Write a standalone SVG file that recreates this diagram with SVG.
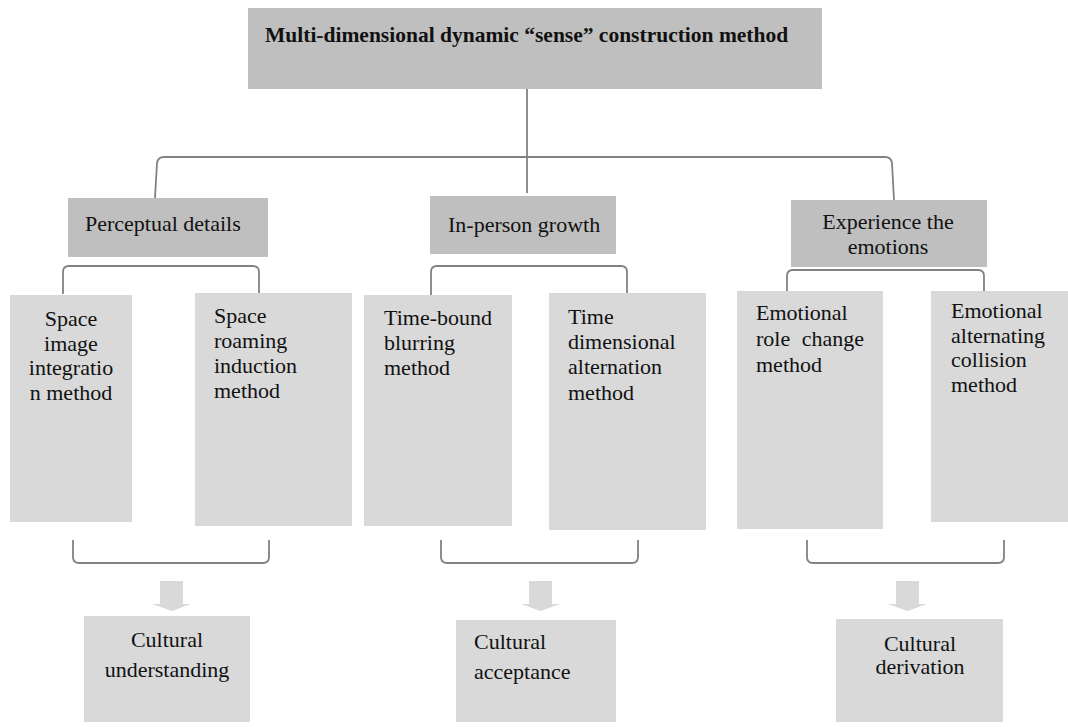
<svg xmlns="http://www.w3.org/2000/svg" width="1068" height="727" viewBox="0 0 1068 727">
<style>
.dark{fill:#bfbfbf}
.light{fill:#d9d9d9}
.t{font-family:"Liberation Serif","Times New Roman",serif;font-size:22px;fill:#111}
.b{font-weight:bold;font-size:21.5px}
.c{text-anchor:middle}
.ln{fill:none;stroke:#828282;stroke-width:1.8}
.arr{fill:#d9d9d9}
</style>
<rect width="1068" height="727" fill="#fff"/>
<g id="connectors">
<path class="ln" d="M527,88 V193"/>
<path class="ln" d="M155,198 L157,163 Q158,157 164,157 H885 Q891,157 892,163 L894,200"/>
<path class="ln" d="M63,294 V272 Q63,266 69,266 H253 Q259,266 259,272 V293"/>
<path class="ln" d="M431,295 V272 Q431,266 437,266 H621 Q627,266 627,272 V293"/>
<path class="ln" d="M787,291 V276 Q787,270 793,270 H978 Q984,270 984,276 V291"/>
<path class="ln" d="M73,540 V557 Q73,563 79,563 H263 Q269,563 269,557 V540"/>
<path class="ln" d="M441,540 V557 Q441,563 447,563 H632 Q638,563 638,557 V540"/>
<path class="ln" d="M807,540 V557 Q807,563 813,563 H998 Q1004,563 1004,557 V540"/>
<polygon class="arr" points="160,581 183,581 183,604 191,604 172,611 152,604 160,604"/>
<polygon class="arr" points="529,581 552,581 552,604 560,604 540.5,611 521,604 529,604"/>
<polygon class="arr" points="896,581 919,581 919,604 927,604 907.5,611 888,604 896,604"/>
</g>
<g id="root">
<rect class="dark" x="248" y="8" width="574" height="81"/>
<text class="t b" x="265" y="42">Multi-dimensional dynamic “sense” construction method</text>
</g>
<g id="perceptual">
<rect class="dark" x="68" y="198" width="200" height="59"/>
<text class="t" x="85" y="231">Perceptual details</text>
</g>
<g id="inperson">
<rect class="dark" x="430" y="196" width="186" height="58"/>
<text class="t" x="448" y="232">In-person growth</text>
</g>
<g id="experience">
<rect class="dark" x="791" y="200" width="196" height="67"/>
<text class="t c" x="888" y="229">Experience the</text>
<text class="t c" x="888" y="254">emotions</text>
</g>
<g id="space-image">
<rect class="light" x="10" y="295" width="122" height="227"/>
<text class="t c" x="71" y="326">Space</text>
<text class="t c" x="71" y="350.5">image</text>
<text class="t c" x="71" y="375">integratio</text>
<text class="t c" x="71" y="400">n method</text>
</g>
<g id="space-roaming">
<rect class="light" x="195" y="293" width="157" height="233"/>
<text class="t" x="214" y="323">Space</text>
<text class="t" x="214" y="348">roaming</text>
<text class="t" x="214" y="373">induction</text>
<text class="t" x="214" y="398">method</text>
</g>
<g id="time-bound">
<rect class="light" x="364" y="295" width="148" height="231"/>
<text class="t" x="384" y="324.5">Time-bound</text>
<text class="t" x="384" y="349.5">blurring</text>
<text class="t" x="384" y="375">method</text>
</g>
<g id="time-dimensional">
<rect class="light" x="549" y="293" width="157" height="237"/>
<text class="t" x="568" y="324">Time</text>
<text class="t" x="568" y="349">dimensional</text>
<text class="t" x="568" y="374">alternation</text>
<text class="t" x="568" y="400">method</text>
</g>
<g id="emotional-role">
<rect class="light" x="737" y="291" width="146" height="238"/>
<text class="t" x="756" y="320">Emotional</text>
<text class="t" x="756" y="346" word-spacing="6">role change</text>
<text class="t" x="756" y="372">method</text>
</g>
<g id="emotional-collision">
<rect class="light" x="931" y="291" width="137" height="231"/>
<text class="t" x="951" y="318">Emotional</text>
<text class="t" x="951" y="343">alternating</text>
<text class="t" x="951" y="367">collision</text>
<text class="t" x="951" y="392">method</text>
</g>
<g id="understanding">
<rect class="light" x="84" y="616" width="166" height="106"/>
<text class="t c" x="167" y="647">Cultural</text>
<text class="t c" x="167" y="677">understanding</text>
</g>
<g id="acceptance">
<rect class="light" x="456" y="620" width="160" height="102"/>
<text class="t" x="474" y="649">Cultural</text>
<text class="t" x="474" y="679">acceptance</text>
</g>
<g id="derivation">
<rect class="light" x="836" y="619" width="167" height="103"/>
<text class="t c" x="920" y="651">Cultural</text>
<text class="t c" x="920" y="674">derivation</text>
</g>
</svg>
